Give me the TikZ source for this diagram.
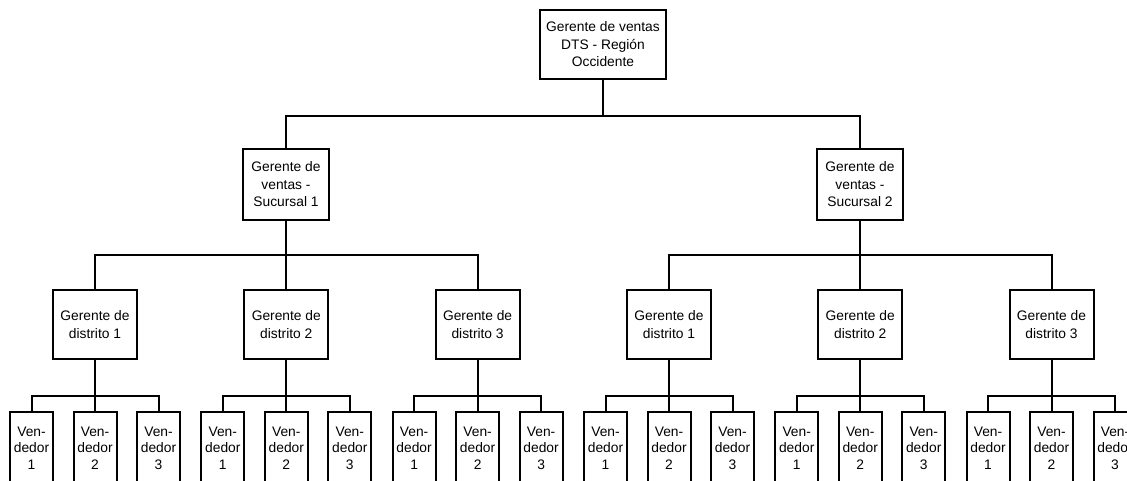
\documentclass[tikz,border=0pt]{standalone}
\usepackage{fontspec}
\setmainfont{Liberation Sans}
\begin{document}
\begin{tikzpicture}[x=1pt,y=-1pt,
  box/.style={draw=black,line width=2pt,fill=white,inner sep=0pt,align=center,
    font=\fontsize{13.8}{17.5}\selectfont},
  rootbox/.style={box,minimum width=126pt,minimum height=69pt},
  branchbox/.style={box,minimum width=86pt,minimum height=71pt},
  districtbox/.style={box,minimum width=84pt,minimum height=69pt},
  sellerbox/.style={box,minimum width=43pt,minimum height=72pt,
    font=\fontsize{13.8}{16.5}\selectfont},
  link/.style={draw=black,line width=2pt}]
\clip (0,0) rectangle (1127,481);
\fill[white] (0,0) rectangle (1127,481);

% top level
\node[rootbox] (root) at (603,44.5) {Gerente de ventas\\DTS - Región\\Occidente};

% branch managers
\node[branchbox] (s1) at (286,184.5) {Gerente de\\ventas -\\Sucursal 1};
\node[branchbox] (s2) at (860,184.5) {Gerente de\\ventas -\\Sucursal 2};

\draw[link] (root.south) -- ++(0,36) -| (s1.north);
\draw[link] (root.south) -- ++(0,36) -| (s2.north);

% district managers and sellers
\foreach \d/\x/\n/\b in {a/95/1/s1, b/286.3/2/s1, c/477.6/3/s1,
                          d/669/1/s2, e/860.2/2/s2, f/1051.5/3/s2}{
  \node[districtbox] (\d) at (\x,324.5) {Gerente de\\distrito \n};
  \draw[link] (\b.south) -- ++(0,34) -| (\d.north);
  \foreach \k/\dx in {1/-63.5,2/0,3/63.5}{
    \node[sellerbox] (\d\k) at (\x+\dx,448) {Ven-\\dedor\\\k};
    \draw[link] (\d.south) -- ++(0,36) -| (\d\k.north);
  }
}
\end{tikzpicture}
\end{document}
